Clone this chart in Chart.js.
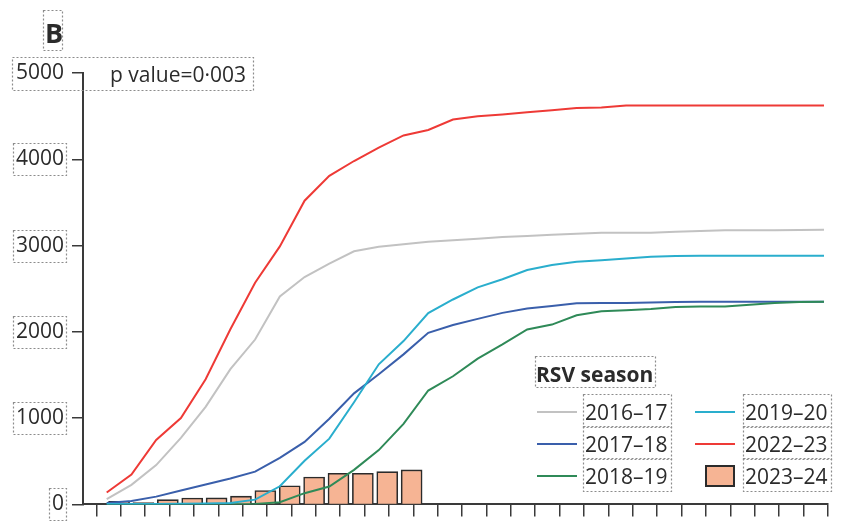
<!DOCTYPE html>
<html>
<head>
<meta charset="utf-8">
<script src="https://cdn.jsdelivr.net/npm/chart.js@4.4.1/dist/chart.umd.min.js"></script>
<style>
  html, body { margin: 0; padding: 0; background: #fff; }
  #wrap { width: 854px; height: 525px; position: relative; }
</style>
</head>
<body>
<div id="wrap"><canvas id="c"></canvas></div>
<script>
// Epidemiological weeks of the RSV season (x positions)
const weeks = [1, 2, 3, 4, 5, 6, 7, 8, 9, 10, 11, 12, 13, 14, 15,
               16, 17, 18, 19, 20, 21, 22, 23, 24, 25, 26, 27, 28, 29, 30];

const seasonLabels = ['2016–17', '2017–18', '2018–19', '2019–20', '2022–23', '2023–24'];

// Cumulative cases per season
const s2016_17 = [60, 226, 456, 770, 1130, 1567, 1911, 2410, 2635, 2790, 2934, 2985, 3015, 3045, 3061,
                  3080, 3100, 3111, 3126, 3138, 3149, 3149, 3149, 3160, 3170, 3176, 3176, 3176, 3180, 3184];
const s2017_18 = [15, 40, 90, 160, 230, 300, 380, 540, 724, 992, 1287, 1509, 1739, 1989, 2080,
                  2150, 2220, 2270, 2300, 2330, 2333, 2333, 2340, 2345, 2350, 2350, 2350, 2350, 2350, 2350];
const s2018_19 = [3, 3, 3, 3, 3, 3, 5, 25, 130, 207, 400, 629, 934, 1320, 1485,
                  1690, 1854, 2027, 2084, 2192, 2238, 2249, 2264, 2287, 2295, 2295, 2314, 2333, 2345, 2350];
const s2019_20 = [5, 5, 5, 8, 10, 15, 55, 210, 505, 762, 1184, 1624, 1893, 2218, 2375,
                  2515, 2610, 2716, 2774, 2812, 2831, 2851, 2870, 2880, 2882, 2882, 2882, 2882, 2882, 2882];
const s2022_23 = [138, 345, 747, 1000, 1450, 2030, 2570, 2990, 3520, 3808, 3980, 4134, 4276, 4340, 4460,
                  4500, 4520, 4545, 4567, 4594, 4600, 4624, 4624, 4624, 4624, 4624, 4624, 4624, 4624, 4624];
const s2023_24 = [35, 20, 55, 73, 75, 95, 160, 215, 318, 360, 360, 380, 400];

const yTicks = [0, 1000, 2000, 3000, 4000, 5000];

const panelLabel = 'B';
const pValueText = 'p value=0·003';
const legendTitle = 'RSV season';

const FONT = '"Open Sans", "Noto Sans", sans-serif';
const INK = '#2b2b2b';
const AXIS = '#3a3a3a';
const colors = {
  '2016–17': '#c2c2c2',
  '2017–18': '#3a5fab',
  '2018–19': '#2f8a58',
  '2019–20': '#2aaecd',
  '2022–23': '#ee3a36',
  '2023–24': '#f6b494'
};

const lineSeries = [s2016_17, s2017_18, s2018_19, s2019_20, s2022_23];

const datasets = lineSeries.map((vals, k) => ({
  type: 'line',
  label: seasonLabels[k],
  data: vals.map((v, i) => ({ x: i, y: v })),
  xAxisID: 'xl',
  borderColor: colors[seasonLabels[k]],
  backgroundColor: colors[seasonLabels[k]],
  borderWidth: 2,
  pointRadius: 0,
  tension: 0,
  order: 5 - k
}));

datasets.push({
  type: 'bar',
  label: seasonLabels[5],
  data: s2023_24.map((v, i) => ({ x: i, y: v })),
  xAxisID: 'x',
  backgroundColor: colors['2023–24'],
  borderColor: INK,
  borderWidth: 1.6,
  barThickness: 21,
  order: 10
});

// Text annotations, dotted label frames and the two-column legend
const annotations = {
  id: 'annotations',
  afterDraw(chart) {
    const ctx = chart.ctx;
    const frame = (x, y, w, h) => {
      ctx.save();
      ctx.setLineDash([2, 2]);
      ctx.strokeStyle = '#8c8c8c';
      ctx.lineWidth = 1.2;
      ctx.strokeRect(Math.round(x) + 0.5, Math.round(y) + 0.5, Math.round(w), Math.round(h));
      ctx.restore();
    };
    ctx.save();
    ctx.fillStyle = INK;
    ctx.textBaseline = 'alphabetic';
    ctx.textAlign = 'left';

    ctx.font = `700 27px ${FONT}`;
    ctx.fillText(panelLabel, 45, 43);
    frame(43, 10, 19, 40);

    ctx.font = `400 21px ${FONT}`;
    ctx.fillText(pValueText, 110, 82);
    frame(12, 57, 241, 33);

    // frames round the lower y tick labels
    const ys = chart.scales.y;
    const labelRight = ys.right - 11 - 8;
    yTicks.slice(0, -1).forEach(v => {
      const py = ys.getPixelForValue(v);
      const w = ctx.measureText(String(v)).width;
      frame(labelRight - w - 3, py - 16, w + 5, 32);
    });

    // legend
    ctx.font = `700 21px ${FONT}`;
    ctx.fillText(legendTitle, 536, 382);
    frame(535, 356, ctx.measureText(legendTitle).width + 3, 31);

    ctx.font = `400 21px ${FONT}`;
    const rowY = [412, 444, 476];
    const colX = [537, 695];
    const textX = [585, 745];
    chart.data.datasets.forEach((ds, i) => {
      const col = Math.floor(i / 3), row = i % 3;
      const y = rowY[row];
      if (ds.type === 'bar') {
        ctx.fillStyle = ds.backgroundColor;
        ctx.fillRect(706, y - 10, 28, 20);
        ctx.strokeStyle = INK;
        ctx.lineWidth = 2;
        ctx.strokeRect(706, y - 10, 28, 20);
      } else {
        ctx.strokeStyle = ds.borderColor;
        ctx.lineWidth = 2;
        ctx.beginPath();
        ctx.moveTo(colX[col], y);
        ctx.lineTo(colX[col] + 40, y);
        ctx.stroke();
      }
      ctx.fillStyle = INK;
      ctx.fillText(ds.label, textX[col], y + 7.5);
      const w = ctx.measureText(ds.label).width;
      frame(textX[col] - 2, y - 18, w + 5, 33);
    });
    ctx.restore();
  }
};

new Chart(document.getElementById('c'), {
  data: { datasets },
  options: {
    responsive: true,
    maintainAspectRatio: false,
    animation: false,
    layout: { padding: { left: 0, right: 26, top: 73, bottom: 0 } },
    plugins: { legend: { display: false }, tooltip: { enabled: false } },
    scales: {
      x: {
        type: 'linear',
        position: 'bottom',
        min: -0.54,
        max: weeks.length - 1,
        afterBuildTicks: s => { s.ticks = weeks.map((w, i) => ({ value: i })); },
        afterFit: s => { s.height = 17; },
        ticks: { display: false },
        grid: { drawOnChartArea: false, drawTicks: true, tickLength: 12, color: AXIS, lineWidth: 1.5 },
        border: { display: true, color: AXIS, width: 2 }
      },
      xl: {
        type: 'linear',
        display: false,
        min: -0.958,
        max: 29.162
      },
      y: {
        type: 'linear',
        min: 0,
        max: 5000,
        afterBuildTicks: s => { s.ticks = yTicks.map(v => ({ value: v })); },
        afterFit: s => { s.width = 83; },
        ticks: { color: INK, font: { family: FONT, size: 21 }, padding: 8, callback: v => String(v) },
        grid: { drawOnChartArea: false, drawTicks: true, tickLength: 11, color: AXIS, lineWidth: 1.5 },
        border: { display: true, color: AXIS, width: 2 }
      }
    }
  },
  plugins: [annotations]
});
</script>
</body>
</html>
